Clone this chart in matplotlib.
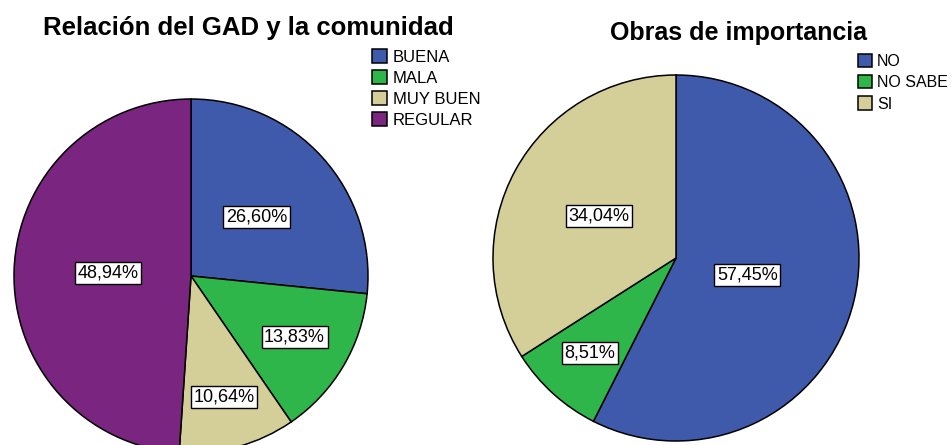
import numpy as np
import matplotlib
matplotlib.use("Agg")
import matplotlib.pyplot as plt

# Datos
titulo_1 = "Relación del GAD y la comunidad"
categorias_1 = ["BUENA", "MALA", "MUY BUEN", "REGULAR"]
porcentajes_1 = [26.60, 13.83, 10.64, 48.94]

titulo_2 = "Obras de importancia"
categorias_2 = ["NO", "NO SABE", "SI"]
porcentajes_2 = [57.45, 8.51, 34.04]

# Colores estilo SPSS
azul = "#3F5AAB"
verde = "#2FB64A"
beige = "#D4CE98"
morado = "#7A2580"
colores_1 = [azul, verde, beige, morado]
colores_2 = [azul, verde, beige]

plt.rcParams['font.family'] = ['Liberation Sans', 'DejaVu Sans']

W, H = 952, 445
fig = plt.figure(figsize=(W / 100, H / 100), dpi=100)
ax = fig.add_axes([0, 0, 1, 1])


def etiqueta(v):
    return f"{v:.2f}%".replace(".", ",")


def dibujar_pastel(valores, colores, centro, radio, distancias):
    wedges, _ = ax.pie(valores, colors=colores, startangle=90, counterclock=False,
                       center=centro, radius=radio,
                       wedgeprops=dict(edgecolor='black', linewidth=1.1))
    for w, v, d in zip(wedges, valores, distancias):
        ang = np.deg2rad((w.theta1 + w.theta2) / 2)
        x = centro[0] + d * radio * np.cos(ang)
        y = centro[1] + d * radio * np.sin(ang)
        ax.text(x, y, etiqueta(v), fontsize=13, ha='center', va='center',
                bbox=dict(boxstyle='square,pad=0.14', fc='white', ec='black', lw=1))
    return wedges


# Pastel izquierdo
w1 = dibujar_pastel(porcentajes_1, colores_1, (191, 169), 177, [0.50, 0.68, 0.71, 0.47])
# Pastel derecho
w2 = dibujar_pastel(porcentajes_2, colores_2, (676, 187), 183, [0.40, 0.70, 0.48])

ax.set_xlim(0, W)
ax.set_ylim(0, H)
ax.set_aspect('auto')
ax.axis('off')

ax.text(248, 410, titulo_1, fontsize=18.5, fontweight='bold', ha='center', va='baseline')
ax.text(738, 405, titulo_2, fontsize=18, fontweight='bold', ha='center', va='baseline')

leg1 = ax.legend(w1, categorias_1, loc='upper left', bbox_to_anchor=(372, 445 - 49),
                 bbox_transform=ax.transData, frameon=False, fontsize=12,
                 borderpad=0, borderaxespad=0, labelspacing=0.32,
                 handlelength=0.9, handleheight=0.9, handletextpad=0.35)
ax.add_artist(leg1)
ax.legend(w2, categorias_2, loc='upper left', bbox_to_anchor=(858, 445 - 54),
          bbox_transform=ax.transData, frameon=False, fontsize=11.5,
          borderpad=0, borderaxespad=0, labelspacing=0.38,
          handlelength=0.9, handleheight=0.9, handletextpad=0.3)

fig.savefig("out.png", dpi=100)
